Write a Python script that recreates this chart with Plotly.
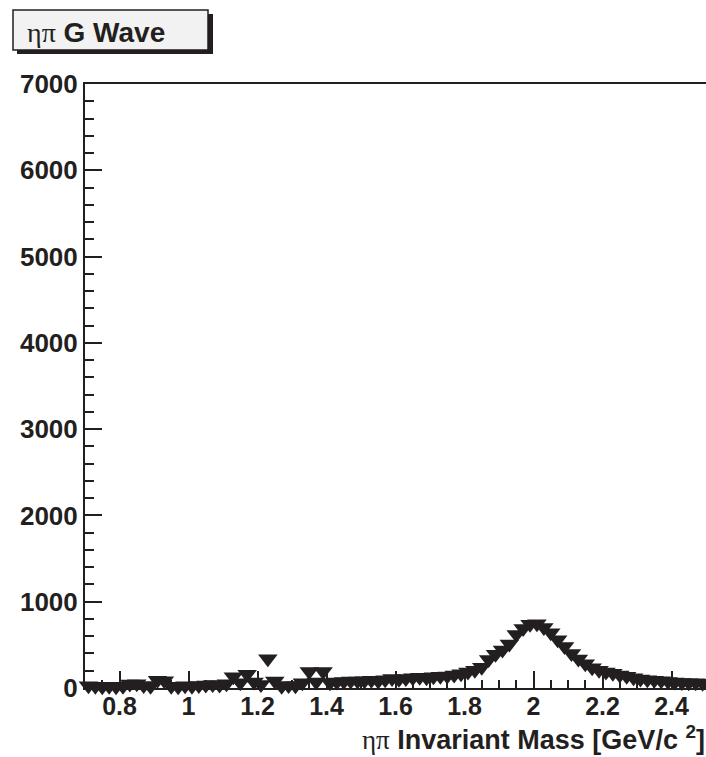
import plotly.graph_objects as go

# bin centres (GeV/c^2), 20 MeV bins
mass = [round(0.71 + 0.02 * i, 2) for i in range(90)]
events = [
    25, 20, 15, 20, 15, 20, 45, 50, 30, 20,      # 0.71-0.89
    90, 85, 20, 15, 25, 20, 30, 35, 40, 35,      # 0.91-1.09
    50, 130, 60, 160, 70, 40, 340, 80, 20, 30,   # 1.11-1.29
    25, 60, 190, 70, 190, 60, 70, 75, 80, 80,    # 1.31-1.49
    85, 90, 80, 95, 110, 100, 110, 120, 125, 120,  # 1.51-1.69
    130, 135, 140, 150, 165, 185, 205, 240, 330, 390,  # 1.71-1.89
    440, 510, 620, 690, 740, 745, 700, 640, 560, 480,  # 1.91-2.09
    400, 335, 280, 235, 205, 185, 170, 150, 135, 120,  # 2.11-2.29
    105, 95, 90, 85, 75, 70, 65, 60, 60, 55,     # 2.31-2.49
]

x_tickvals = [0.8, 1.0, 1.2, 1.4, 1.6, 1.8, 2.0, 2.2, 2.4]
x_ticktext = ["0.8", "1", "1.2", "1.4", "1.6", "1.8", "2", "2.2", "2.4"]
y_tickvals = [0, 1000, 2000, 3000, 4000, 5000, 6000, 7000]
y_ticktext = ["0", "1000", "2000", "3000", "4000", "5000", "6000", "7000"]

INK = "#231f20"
FONT = "Liberation Sans, Arial, Helvetica, sans-serif"
SERIF = "Liberation Serif, Times New Roman, serif"

fig = go.Figure()
fig.add_trace(go.Scatter(
    x=mass, y=events, mode="markers",
    marker=dict(symbol="triangle-down", size=17, color=INK, line=dict(width=0)),
    cliponaxis=False, showlegend=False,
))

W, H = 706, 757
L, R, T, B = 85, 0, 84, 69
pw, ph = W - L - R, H - T - B

def px(xp):
    return (xp - L) / pw

def py(yp):
    return (H - B - yp) / ph

shapes = [
    # title box shadow
    dict(type="rect", xref="paper", yref="paper",
         x0=px(17), x1=px(213), y0=py(54), y1=py(14),
         fillcolor=INK, line=dict(width=0), layer="above"),
    # title box
    dict(type="rect", xref="paper", yref="paper",
         x0=px(13), x1=px(208), y0=py(50), y1=py(10),
         fillcolor="#f2f2f2", line=dict(color=INK, width=1.5), layer="above"),
]

annotations = [
    dict(xref="paper", yref="paper", x=px(25), y=py(33), xanchor="left", yanchor="middle",
         showarrow=False,
         text=f"<span style='font-family:{SERIF};font-weight:normal'>ηπ</span> <b>G Wave</b>",
         font=dict(family=FONT, size=28, color=INK)),
    dict(xref="paper", yref="paper", x=px(707), y=py(757), xanchor="right", yanchor="bottom",
         showarrow=False,
         text=f"<span style='font-family:{SERIF};font-weight:normal'>ηπ</span> <b>Invariant Mass [GeV/c <sup>2</sup>]</b>",
         font=dict(family=FONT, size=27, color=INK)),
]

fig.update_layout(
    width=W, height=H,
    margin=dict(l=L, r=R, t=T, b=B, pad=0),
    paper_bgcolor="white", plot_bgcolor="white",
    font=dict(family=FONT, color=INK),
    shapes=shapes, annotations=annotations,
    xaxis=dict(
        range=[0.7, 2.5], showgrid=False, zeroline=False,
        showline=True, linecolor=INK, linewidth=2, mirror=True,
        ticks="inside", ticklen=17, tickwidth=2, tickcolor=INK,
        tickvals=x_tickvals, ticktext=x_ticktext, ticklabelstandoff=-5,
        tickfont=dict(family=FONT, size=25, color=INK, weight="bold"),
        minor=dict(dtick=0.05, tick0=0.7, ticks="inside", ticklen=8, tickwidth=2, tickcolor=INK),
    ),
    yaxis=dict(
        range=[0, 7000], showgrid=False, zeroline=False,
        showline=True, linecolor=INK, linewidth=2,
        ticks="inside", ticklen=17, tickwidth=2, tickcolor=INK,
        tickvals=y_tickvals, ticktext=y_ticktext,
        tickfont=dict(family=FONT, size=26, color=INK, weight="bold"),
        minor=dict(dtick=200, ticks="inside", ticklen=9, tickwidth=2, tickcolor=INK),
    ),
)

fig.write_html("out.html")
